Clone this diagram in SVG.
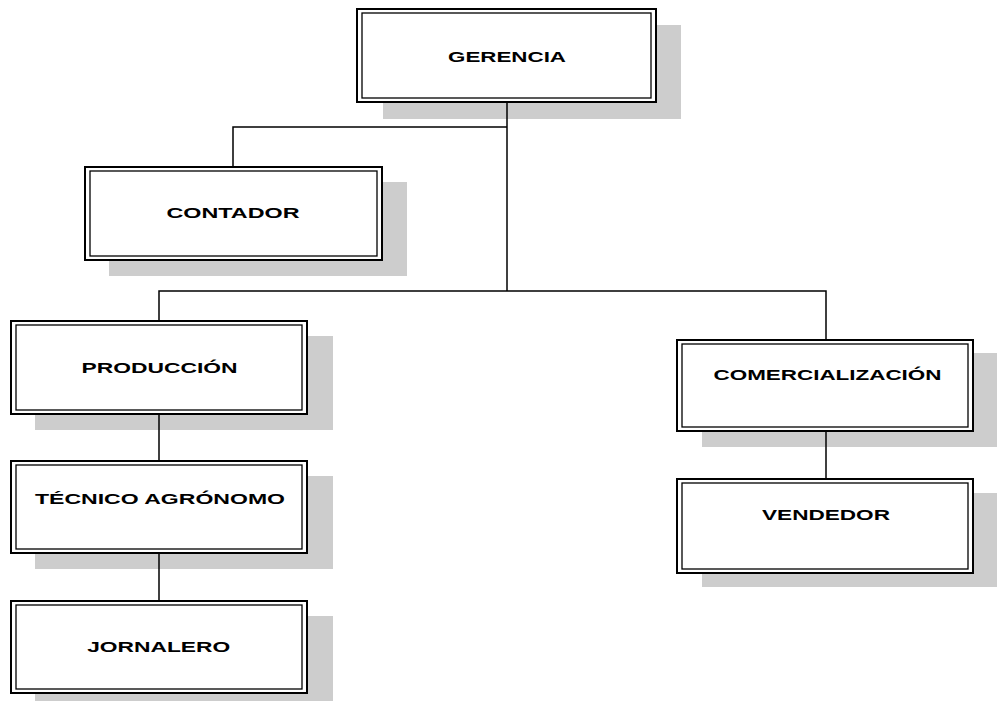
<svg xmlns="http://www.w3.org/2000/svg" width="997" height="701" viewBox="0 0 997 701">
<style>
.sh{fill:#cdcdcd;stroke:none}
.ob{fill:#fff;stroke:#000;stroke-width:2}
.ib{fill:none;stroke:#000;stroke-width:1.3}
.t{font-family:"Liberation Sans",Arial,sans-serif;font-weight:bold;font-size:15px;fill:#000;text-anchor:middle}
.c{fill:none;stroke:#000;stroke-width:1.5}
</style>
<rect width="997" height="701" fill="#fff"/>
<g id="gerencia">
<rect class="sh" x="383" y="25" width="298" height="94"/>
<rect class="ob" x="357" y="9" width="299" height="93"/>
<rect class="ib" x="362" y="13" width="289" height="85"/>
<text class="t" x="507" y="61.5" textLength="118" lengthAdjust="spacingAndGlyphs">GERENCIA</text>
</g>
<g id="contador">
<rect class="sh" x="109" y="182" width="298" height="94"/>
<rect class="ob" x="85" y="167" width="297" height="93"/>
<rect class="ib" x="90" y="171" width="287" height="85"/>
<text class="t" x="233" y="218" textLength="133" lengthAdjust="spacingAndGlyphs">CONTADOR</text>
</g>
<g id="produccion">
<rect class="sh" x="35" y="336" width="298" height="94"/>
<rect class="ob" x="11" y="321" width="296" height="93"/>
<rect class="ib" x="16" y="325" width="286" height="85"/>
<text class="t" x="159.5" y="372.5" textLength="156" lengthAdjust="spacingAndGlyphs">PRODUCCIÓN</text>
</g>
<g id="tecnico">
<rect class="sh" x="35" y="476" width="298" height="93"/>
<rect class="ob" x="11" y="461" width="296" height="92"/>
<rect class="ib" x="16" y="465" width="286" height="84"/>
<text class="t" x="160" y="503.5" textLength="250" lengthAdjust="spacingAndGlyphs">TÉCNICO AGRÓNOMO</text>
</g>
<g id="jornalero">
<rect class="sh" x="35" y="616" width="298" height="93"/>
<rect class="ob" x="11" y="601" width="296" height="92"/>
<rect class="ib" x="16" y="605" width="286" height="84"/>
<text class="t" x="158.7" y="651.5" textLength="143" lengthAdjust="spacingAndGlyphs">JORNALERO</text>
</g>
<g id="comercializacion">
<rect class="sh" x="702" y="353" width="296" height="94"/>
<rect class="ob" x="677" y="340" width="296" height="91"/>
<rect class="ib" x="682" y="344" width="286" height="83"/>
<text class="t" x="827.5" y="380" textLength="228" lengthAdjust="spacingAndGlyphs">COMERCIALIZACIÓN</text>
</g>
<g id="vendedor">
<rect class="sh" x="702" y="493" width="296" height="94"/>
<rect class="ob" x="677" y="479" width="296" height="94"/>
<rect class="ib" x="682" y="483" width="286" height="86"/>
<text class="t" x="826" y="520" textLength="128" lengthAdjust="spacingAndGlyphs">VENDEDOR</text>
</g>
<g id="connectors">
<line class="c" x1="507" y1="103" x2="507" y2="291" stroke-width="2"/>
<polyline class="c" points="507,127 233,127 233,166"/>
<polyline class="c" points="159,320 159,291 826,291 826,339"/>
<line class="c" x1="159" y1="415" x2="159" y2="460"/>
<line class="c" x1="159" y1="554" x2="159" y2="600"/>
<line class="c" x1="826" y1="432" x2="826" y2="478"/>
</g>
</svg>
